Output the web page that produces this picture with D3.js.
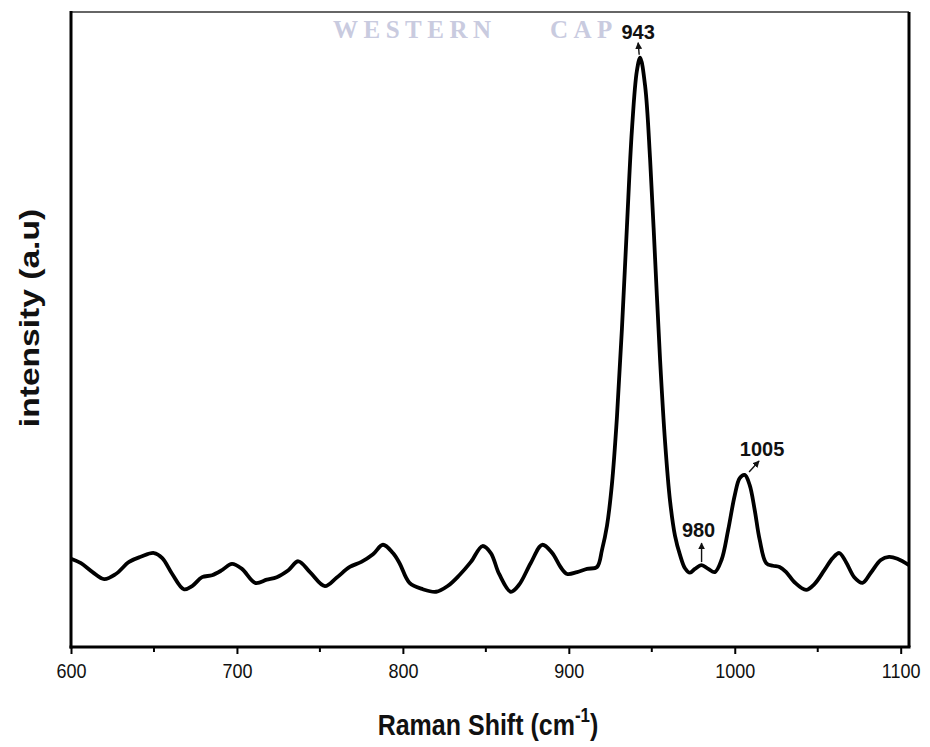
<!DOCTYPE html>
<html>
<head>
<meta charset="utf-8">
<script src="https://cdn.jsdelivr.net/npm/d3@7"></script>
<style>
  body { margin: 0; background: #fff; }
  svg { display: block; }
</style>
</head>
<body>
<svg id="chart" width="930" height="747"></svg>
<script>
// Raman spectrum: wavenumber (cm-1) and intensity (arbitrary units)
const wavenumber = [
  600, 606, 613, 620, 627, 635, 642, 650, 655, 661, 668, 673, 679, 685, 691, 697,
  703, 711, 718, 724, 731, 737, 744, 753, 760, 768, 775, 782, 788, 794, 798, 804,
  812, 820, 827, 834, 841, 848, 853, 858, 865, 870, 877, 884, 890, 895, 899, 905,
  911, 917, 920, 923, 926, 929, 932, 935, 938, 941, 943, 946, 949, 952, 955, 958,
  961, 964, 967, 970, 973, 976, 980, 984, 988, 992, 996, 1000, 1003, 1006, 1009, 1012,
  1015, 1019, 1023, 1027, 1031, 1036, 1043, 1048, 1054, 1059, 1063, 1067, 1072, 1077, 1082, 1088,
  1093, 1098, 1105
];
const intensity = [
  139, 132, 118, 107, 115, 134, 142, 148, 140, 115, 91, 96, 110, 113, 121, 131,
  123, 101, 106, 110, 121, 135, 118, 96, 109, 126, 134, 146, 161, 148, 132, 101,
  91, 87, 96, 113, 134, 159, 148, 115, 87, 98, 132, 161, 148, 126, 115, 118,
  123, 126, 153, 191, 257, 362, 501, 661, 813, 907, 928, 883, 767, 611, 452, 323,
  230, 175, 145, 124, 117, 123, 129, 123, 118, 137, 184, 239, 266, 271, 255, 216,
  169, 132, 128, 126, 118, 102, 90, 99, 121, 140, 148, 134, 110, 101, 117, 137,
  142, 139, 129
];

// Annotated peaks
const peakLabels = ["943", "980", "1005"];
const peakPositions = [943, 980, 1005];
const peakHeights = [928, 129, 271];

// Axis ticks
const majorTicks = [600, 700, 800, 900, 1000, 1100];
const minorTicks = [650, 750, 850, 950, 1050];

const SANS = "'Liberation Sans', Arial, sans-serif";
const SERIF = "'Liberation Serif', 'Times New Roman', serif";

const svg = d3.select("#chart");
const margin = { left: 71, right: 21, top: 12, bottom: 100 };
const W = 930, H = 747;

const x = d3.scaleLinear().domain([600, 1105]).range([margin.left, W - margin.right]);
const y = d3.scaleLinear().domain([0, 1000]).range([H - margin.bottom, margin.top]);

// arrowhead marker for peak annotations
svg.append("defs").append("marker")
  .attr("id", "arrowhead")
  .attr("viewBox", "0 0 10 10")
  .attr("refX", 9).attr("refY", 5)
  .attr("markerWidth", 5).attr("markerHeight", 5)
  .attr("orient", "auto")
  .append("path").attr("d", "M0,0 L10,5 L0,10 z").attr("fill", "#111");

// faint background lettering near the top edge
const wm = svg.append("g")
  .style("font-family", SERIF)
  .style("font-weight", "bold")
  .style("font-size", "25px")
  .style("letter-spacing", "5.5px")
  .attr("fill", "#c9cbdf");
wm.append("text").attr("x", 333).attr("y", 38).text("WESTERN");
wm.append("text").attr("x", 550).attr("y", 38).text("CAP");

// spectrum line
const line = d3.line()
  .x((d, i) => x(wavenumber[i]))
  .y(d => y(d))
  .curve(d3.curveCatmullRom.alpha(0.5));

svg.append("path")
  .datum(intensity)
  .attr("d", line)
  .attr("fill", "none")
  .attr("stroke", "#000")
  .attr("stroke-width", 3.8)
  .attr("stroke-linejoin", "round");

// frame
const x0 = x.range()[0], x1 = x.range()[1];
const yb = y.range()[0], yt = y.range()[1];
svg.append("line").attr("x1", x0).attr("x2", x1).attr("y1", yt).attr("y2", yt)
  .attr("stroke", "#666").attr("stroke-width", 2);
svg.append("line").attr("x1", x1).attr("x2", x1).attr("y1", yt).attr("y2", yb)
  .attr("stroke", "#000").attr("stroke-width", 3);
svg.append("line").attr("x1", x0).attr("x2", x0).attr("y1", yt - 1).attr("y2", yb + 1.5)
  .attr("stroke", "#000").attr("stroke-width", 3);

// bottom axis
const xAxis = d3.axisBottom(x)
  .tickValues(majorTicks)
  .tickSize(7)
  .tickPadding(5)
  .tickFormat(d3.format("d"));
const gx = svg.append("g").attr("transform", `translate(0,${yb})`).call(xAxis);
gx.select(".domain").attr("stroke", "#000").attr("stroke-width", 3)
  .attr("d", `M${x0 - 1.5},0H${x1 + 1.5}`);
gx.selectAll(".tick line").attr("stroke", "#000").attr("stroke-width", 2);
// tick labels: slightly tall, narrow digits
gx.selectAll(".tick text")
  .attr("y", 0)
  .attr("dy", null)
  .attr("transform", "translate(0,31) scale(1,1.15)")
  .style("font-family", SANS)
  .style("font-size", "18px")
  .attr("fill", "#111");

svg.append("g").attr("transform", `translate(0,${yb})`)
  .selectAll("line").data(minorTicks).join("line")
  .attr("x1", d => x(d)).attr("x2", d => x(d))
  .attr("y1", 0).attr("y2", 5)
  .attr("stroke", "#000").attr("stroke-width", 2);

// axis titles
const xt = svg.append("text")
  .attr("transform", "translate(488,735) scale(1,1.15)")
  .attr("text-anchor", "middle")
  .style("font-family", SANS)
  .style("font-size", "25px")
  .style("font-weight", "bold")
  .attr("fill", "#111");
xt.append("tspan").text("Raman Shift (cm");
xt.append("tspan").attr("dy", -11).style("font-size", "17px").text("-1");
xt.append("tspan").attr("dy", 11).text(")");

svg.append("text")
  .attr("transform", "translate(39,318) rotate(-90) scale(1.2,1)")
  .attr("text-anchor", "middle")
  .style("font-family", SANS)
  .style("font-size", "28px")
  .style("font-weight", "bold")
  .attr("fill", "#111")
  .text("intensity (a.u)");

// peak annotations: arrow from the peak and its wavenumber label
const arrowSpec = [
  { dx0: -1, dy0: -3, dx1: -2, dy1: -15, tx: -2, ty: -19 },
  { dx0: 0, dy0: -3, dx1: 0, dy1: -22, tx: -3, ty: -28 },
  { dx0: 6, dy0: -3, dx1: 16, dy1: -14, tx: 19, ty: -19 }
];
const ann = svg.append("g");
peakPositions.forEach((p, i) => {
  const px = x(p), py = y(peakHeights[i]);
  const s = arrowSpec[i];
  if (i === 0) {
    ann.append("rect")
      .attr("x", px + s.tx - 20).attr("y", py + s.ty - 17)
      .attr("width", 40).attr("height", 20).attr("fill", "#fff");
  }
  ann.append("line")
    .attr("x1", px + s.dx0).attr("y1", py + s.dy0)
    .attr("x2", px + s.dx1).attr("y2", py + s.dy1)
    .attr("stroke", "#111").attr("stroke-width", 1.4)
    .attr("marker-end", "url(#arrowhead)");
  ann.append("text")
    .attr("x", px + s.tx).attr("y", py + s.ty)
    .attr("text-anchor", "middle")
    .style("font-family", SANS)
    .style("font-size", "20px")
    .style("font-weight", "bold")
    .attr("fill", "#111")
    .text(peakLabels[i]);
});
</script>
</body>
</html>
